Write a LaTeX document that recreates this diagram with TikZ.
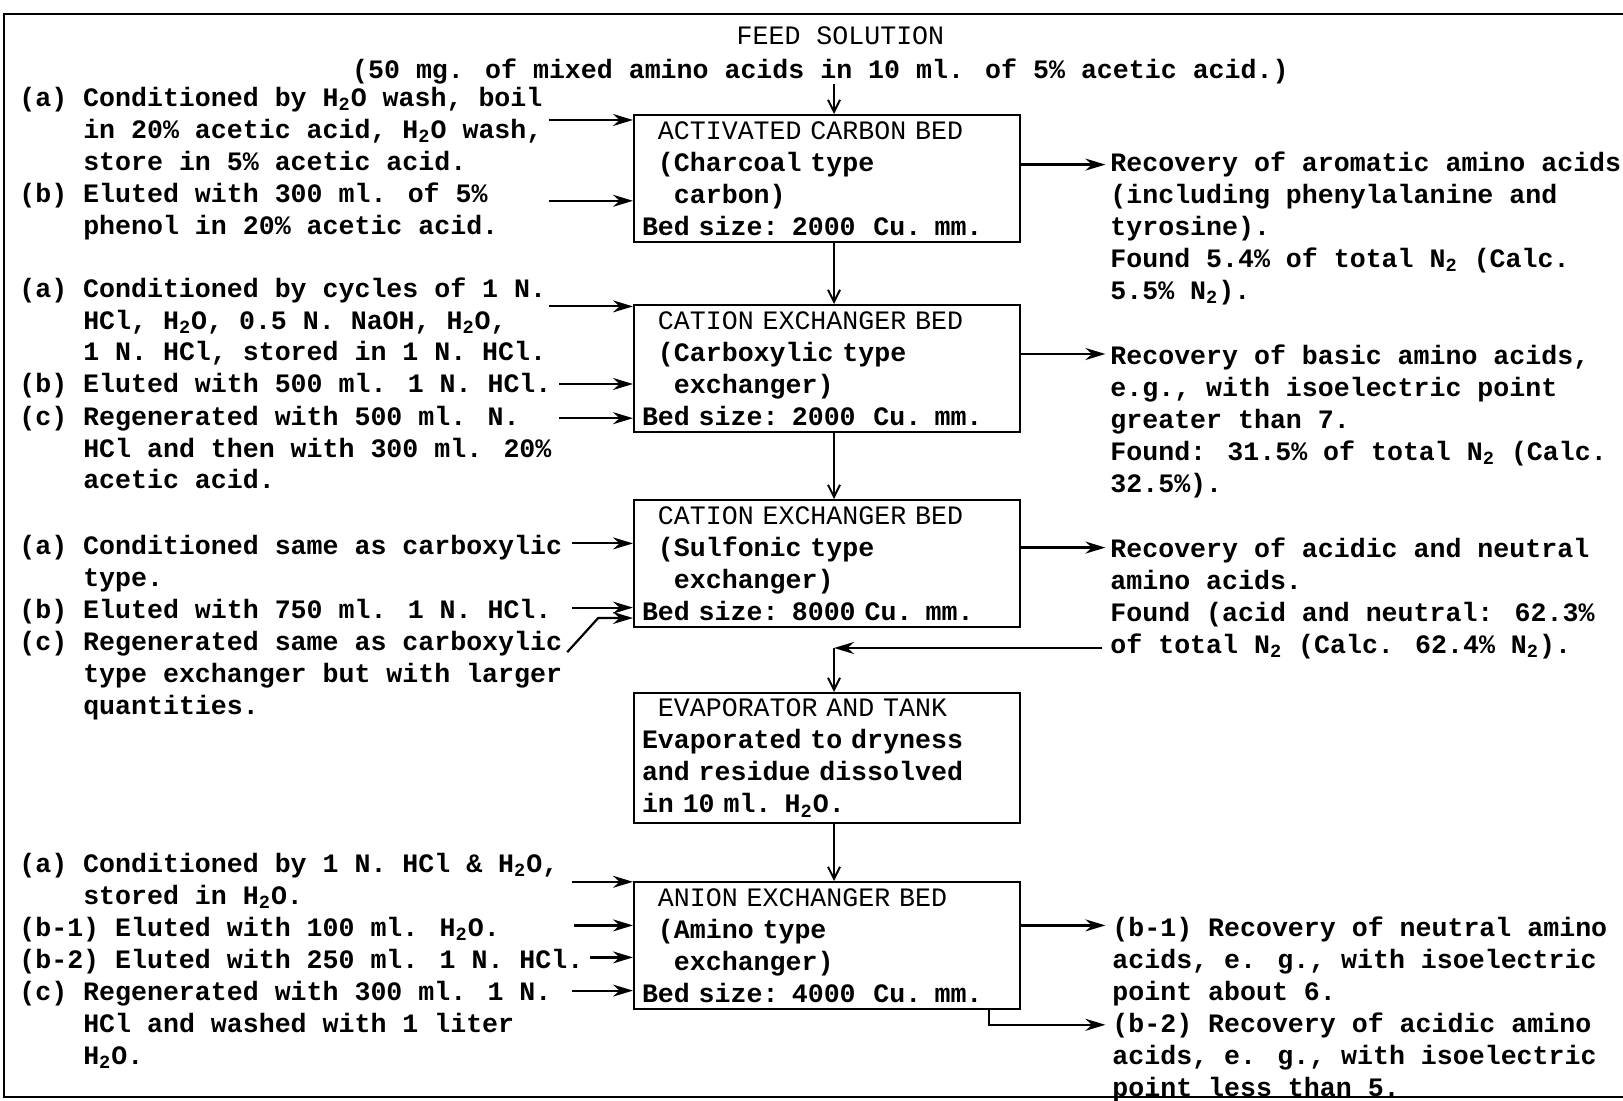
\documentclass[tikz,border=0pt]{standalone}
\usepackage{fontspec}
\usepackage{tikz}
\usetikzlibrary{arrows.meta,positioning}
\newfontfamily\typer{Liberation Mono}
\newcommand{\water}{H\textsubscript{2}O}
\newcommand{\nitro}{N\textsubscript{2}}
\newcommand{\padone}{\hphantom{0}}
\newcommand{\padfour}{\hphantom{0000}}

\begin{document}
\begin{tikzpicture}[
  font=\typer\bfseries\fontsize{13.3pt}{16pt}\selectfont,
  node distance=32pt,
  bed/.style={draw, line width=1pt, align=left, text width=185pt, inner xsep=4pt, inner ysep=1pt, minimum height=63.5pt},
  note/.style={align=left, inner sep=0pt, anchor=base west},
  head/.style={inner sep=0pt, anchor=base, font=\typer\mdseries\fontsize{13.3pt}{16pt}\selectfont},
  arrow/.style={-{Stealth[length=10pt, width=6pt]}, line width=1.1pt},
  flow/.style={-{Straight Barb[length=6pt, width=6pt]}, line width=1pt}
]
\useasboundingbox (0,0) rectangle (811.5pt,-550.5pt);
\draw[line width=1pt] (811.5pt,-7.25pt) -- (2pt,-7.25pt) -- (2pt,-548.5pt) -- (811.5pt,-548.5pt);

% feed
\node[head] (feedhead) at (420.2pt,-22.4pt) {FEED SOLUTION};
\node[inner sep=0pt, anchor=base] (feed) at (410.2pt,-39.1pt) {(50 mg. of mixed amino acids in 10 ml. of 5\% acetic acid.)};

% beds
\node[bed, anchor=north] (carbon) at (413.5pt,-57pt) {\padone{\mdseries ACTIVATED CARBON BED}\\\padone(Charcoal type\\\padone\padone carbon)\\Bed size: 2000~ Cu. mm.};
\node[bed, below=30.5pt of carbon] (carboxyl) {\padone{\mdseries CATION EXCHANGER BED}\\\padone(Carboxylic type\\\padone\padone exchanger)\\Bed size: 2000~ Cu. mm.};
\node[bed, below=33pt of carboxyl] (sulfonic) {\padone{\mdseries CATION EXCHANGER BED}\\\padone(Sulfonic type\\\padone\padone exchanger)\\Bed size: 8000 Cu. mm.};
\node[bed, below=32pt of sulfonic, minimum height=65pt] (evap) {\padone{\mdseries EVAPORATOR AND TANK}\\Evaporated to dryness\\and residue dissolved\\in 10 ml. \water.};
\node[bed, below=28.5pt of evap] (anion) {\padone{\mdseries ANION EXCHANGER BED}\\\padone(Amino type\\\padone\padone exchanger)\\Bed size: 4000~ Cu. mm.};

% preparation notes (placed by their last line)
\node[note] (carbonprep) at (9.5pt,-117.2pt) {(a) Conditioned by \water{} wash, boil\\\padfour in 20\% acetic acid, \water{} wash,\\\padfour store in 5\% acetic acid.\\(b) Eluted with 300 ml. of 5\%\\\padfour phenol in 20\% acetic acid.};
\node[note] (carboxylprep) at (9.5pt,-244.5pt) {(a) Conditioned by cycles of 1 N.\\\padfour HCl, \water, 0.5 N. NaOH, \water,\\\padfour 1 N. HCl, stored in 1 N. HCl.\\(b) Eluted with 500 ml. 1 N. HCl.\\(c) Regenerated with 500 ml. N.\\\padfour HCl and then with 300 ml. 20\%\\\padfour acetic acid.};
\node[note] (sulfonicprep) at (9.5pt,-357.3pt) {(a) Conditioned same as carboxylic\\\padfour type.\\(b) Eluted with 750 ml. 1 N. HCl.\\(c) Regenerated same as carboxylic\\\padfour type exchanger but with larger\\\padfour quantities.};
\node[note] (anionprep) at (9.5pt,-532.3pt) {(a) Conditioned by 1 N. HCl \& \water,\\\padfour stored in \water.\\(b-1) Eluted with 100 ml. \water.\\(b-2) Eluted with 250 ml. 1 N. HCl.\\(c) Regenerated with 300 ml. 1 N.\\\padfour HCl and washed with 1 liter\\\padfour \water.};

% recovery notes
\node[note] (aromatic) at (555pt,-149.8pt) {Recovery of aromatic amino acids\\(including phenylalanine and\\tyrosine).\\Found 5.4\% of total \nitro{} (Calc.\\5.5\% \nitro).};
\node[note] (basic) at (555pt,-246.1pt) {Recovery of basic amino acids,\\e.g., with isoelectric point\\greater than 7.\\Found: 31.5\% of total \nitro{} (Calc.\\32.5\%).};
\node[note] (acidneutral) at (555pt,-326.8pt) {Recovery of acidic and neutral\\amino acids.\\Found (acid and neutral: 62.3\%\\of total \nitro{} (Calc. 62.4\% \nitro).};
\node[note] (neutral) at (556pt,-500.2pt) {(b-1) Recovery of neutral amino\\acids, e. g., with isoelectric\\point about 6.};
\node[note] (acidic) at (556pt,-548.3pt) {(b-2) Recovery of acidic amino\\acids, e. g., with isoelectric\\point less than 5.};

% free ends
\coordinate (carbonA) at (274.3pt,-60pt);
\coordinate (carbonB) at (274.3pt,-100.4pt);
\coordinate (carboxylA) at (274.3pt,-153.2pt);
\coordinate (carboxylB) at (279.5pt,-192pt);
\coordinate (carboxylC) at (279.5pt,-209.1pt);
\coordinate (sulfonicA) at (286.2pt,-271.7pt);
\coordinate (sulfonicB) at (286.2pt,-303.8pt);
\coordinate (sulfonicC) at (283.6pt,-326.1pt);
\coordinate (sulfonicKnee) at (299.1pt,-309pt);
\coordinate (anionA) at (286.2pt,-440.9pt);
\coordinate (anionB1) at (287.2pt,-462.7pt);
\coordinate (anionB2) at (295pt,-478.7pt);
\coordinate (anionC) at (286.2pt,-495.3pt);
\coordinate (aromaticIn) at (552.7pt,-82.3pt);
\coordinate (basicIn) at (552.7pt,-177pt);
\coordinate (acidneutralIn) at (552.7pt,-273.8pt);
\coordinate (neutralIn) at (552.7pt,-462.7pt);
\coordinate (acidicIn) at (552.7pt,-512.4pt);
\coordinate (returnStart) at (551.2pt,-324pt);
\coordinate (returnBend) at ([xshift=3.5pt]evap.north |- returnStart);

% main line, a little right of the centre
\draw[flow] ([xshift=3.5pt]carbon.north |- feed.south) -- ([xshift=3.5pt]carbon.north);
\draw[flow] ([xshift=3.5pt]carbon.south) -- ([xshift=3.5pt]carboxyl.north);
\draw[flow] ([xshift=3.5pt]carboxyl.south) -- ([xshift=3.5pt]sulfonic.north);
\draw[arrow] (returnStart) -- (returnBend);
\draw[flow] (returnBend) -- ([xshift=3.5pt]evap.north);
\draw[flow] ([xshift=3.5pt]evap.south) -- ([xshift=3.5pt]anion.north);

% feeds into the beds
\draw[arrow] (carbonA) -- (carbonA -| carbon.west);
\draw[arrow] (carbonB) -- (carbonB -| carbon.west);
\draw[arrow] (carboxylA) -- (carboxylA -| carboxyl.west);
\draw[arrow] (carboxylB) -- (carboxylB -| carboxyl.west);
\draw[arrow] (carboxylC) -- (carboxylC -| carboxyl.west);
\draw[arrow] (sulfonicA) -- (sulfonicA -| sulfonic.west);
\draw[arrow] (sulfonicB) -- (sulfonicB -| sulfonic.west);
\draw[arrow] (sulfonicC) -- (sulfonicKnee) -- (sulfonicKnee -| sulfonic.west);
\draw[arrow] (anionA) -- (anionA -| anion.west);
\draw[arrow] (anionB1) -- (anionB1 -| anion.west);
\draw[arrow] (anionB2) -- (anionB2 -| anion.west);
\draw[arrow] (anionC) -- (anionC -| anion.west);

% recoveries
\draw[arrow] (carbon.east |- aromaticIn) -- (aromaticIn);
\draw[arrow] (carboxyl.east |- basicIn) -- (basicIn);
\draw[arrow] (sulfonic.east |- acidneutralIn) -- (acidneutralIn);
\draw[arrow] (anion.east |- neutralIn) -- (neutralIn);
\draw[arrow] ([xshift=-16pt]anion.south east) |- (acidicIn);
\end{tikzpicture}
\end{document}
